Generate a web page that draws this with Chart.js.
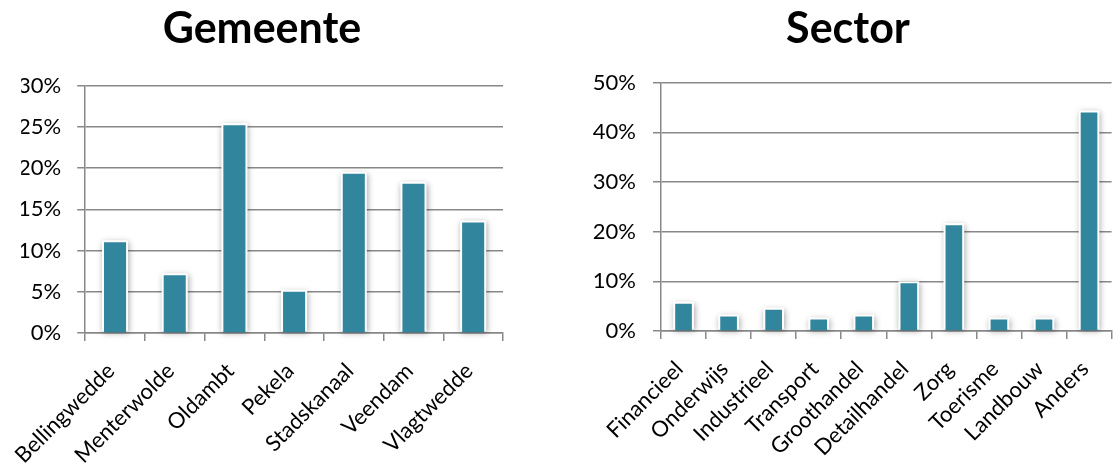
<!DOCTYPE html>
<html>
<head>
<meta charset="utf-8">
<script src="https://cdn.jsdelivr.net/npm/chart.js@4"></script>
<style>
  html, body { margin: 0; padding: 0; background: #fff; }
  body { width: 1113px; height: 465px; overflow: hidden; position: relative; }
  .box { position: absolute; top: 0; height: 465px; }
  #gemeenteBox { left: 0; width: 524px; }
  #sectorBox { left: 571px; width: 554px; }
</style>
</head>
<body>
<div id="gemeenteBox" class="box"><canvas id="gemeenteChart"></canvas></div>
<div id="sectorBox" class="box"><canvas id="sectorChart"></canvas></div>
<script>
// Gemeente
const gemeenteLabels = ["Bellingwedde", "Menterwolde", "Oldambt", "Pekela", "Stadskanaal", "Veendam", "Vlagtwedde"];
const gemeenteValues = [11.0, 7.0, 25.2, 5.0, 19.3, 18.1, 13.4];
const gemeenteTicks = [0, 5, 10, 15, 20, 25, 30];

// Sector
const sectorLabels = ["Financieel", "Onderwijs", "Industrieel", "Transport", "Groothandel", "Detailhandel", "Zorg", "Toerisme", "Landbouw", "Anders"];
const sectorValues = [5.5, 2.9, 4.3, 2.3, 2.9, 9.6, 21.3, 2.3, 2.3, 44.0];
const sectorTicks = [0, 10, 20, 30, 40, 50];

const barKleur = "#31859C";
const lijnKleur = "#888888";
const font = "Lato, 'Open Sans', sans-serif";

// witte rand + schaduw achter de staven
const halo = {
  id: "halo",
  beforeDatasetsDraw(chart) {
    const ctx = chart.ctx;
    const meta = chart.getDatasetMeta(0);
    ctx.save();
    ctx.fillStyle = "#fff";
    ctx.shadowColor = "rgba(0,0,0,0.35)";
    ctx.shadowBlur = 6;
    ctx.shadowOffsetX = 1;
    ctx.shadowOffsetY = 2;
    meta.data.forEach((bar) => {
      const p = bar.getProps(["x", "y", "base", "width"], true);
      ctx.fillRect(p.x - p.width / 2 - 2, p.y - 2, p.width + 4, p.base - p.y + 1);
    });
    ctx.restore();
  },
};

function maakChart(id, titel, labels, values, ticks, opts) {
  const ctx = document.getElementById(id).getContext("2d");
  return new Chart(ctx, {
    type: "bar",
    data: {
      labels: labels,
      datasets: [
        {
          data: values,
          backgroundColor: barKleur,
          borderWidth: 0,
          barPercentage: 0.37,
          categoryPercentage: 1,
        },
      ],
    },
    plugins: [halo],
    options: {
      responsive: true,
      maintainAspectRatio: false,
      animation: false,
      layout: { padding: { left: opts.pad, right: opts.pad, top: 0, bottom: 0 } },
      plugins: {
        legend: { display: false },
        tooltip: { enabled: false },
        title: {
          display: true,
          text: titel,
          color: "#000",
          font: { family: font, size: 43, weight: "bold", lineHeight: 1.2 },
          padding: { top: 3, bottom: opts.titleBottom },
        },
      },
      scales: {
        x: {
          grid: {
            offset: true,
            drawOnChartArea: false,
            drawTicks: true,
            tickLength: 8,
            color: lijnKleur,
            lineWidth: 1.5,
          },
          border: { display: true, color: lijnKleur, width: 1.5 },
          ticks: {
            autoSkip: false,
            minRotation: 45,
            maxRotation: 45,
            color: "#000",
            padding: 17,
            labelOffset: -4,
            font: { family: font, size: 22 },
          },
          afterFit: (scale) => { scale.height = opts.xHeight; },
        },
        y: {
          min: 0,
          max: ticks[ticks.length - 1],
          afterBuildTicks: (scale) => { scale.ticks = ticks.map((v) => ({ value: v })); },
          grid: {
            color: lijnKleur,
            lineWidth: 1.5,
            drawTicks: true,
            tickLength: 8,
          },
          border: { display: true, color: lijnKleur, width: 1.5 },
          ticks: {
            color: "#000",
            padding: opts.yPad,
            font: { family: font, size: 22 },
            callback: (v) => v + "%",
          },
          afterFit: (scale) => { scale.width = opts.yWidth; },
        },
      },
    },
  });
}

maakChart("gemeenteChart", "Gemeente", gemeenteLabels, gemeenteValues, gemeenteTicks,
  { pad: 21, titleBottom: 31, xHeight: 132, yWidth: 64, yPad: 16 });
maakChart("sectorChart", "Sector", sectorLabels, sectorValues, sectorTicks,
  { pad: 6, titleBottom: 28, xHeight: 134, yWidth: 84, yPad: 17 });
</script>
</body>
</html>
